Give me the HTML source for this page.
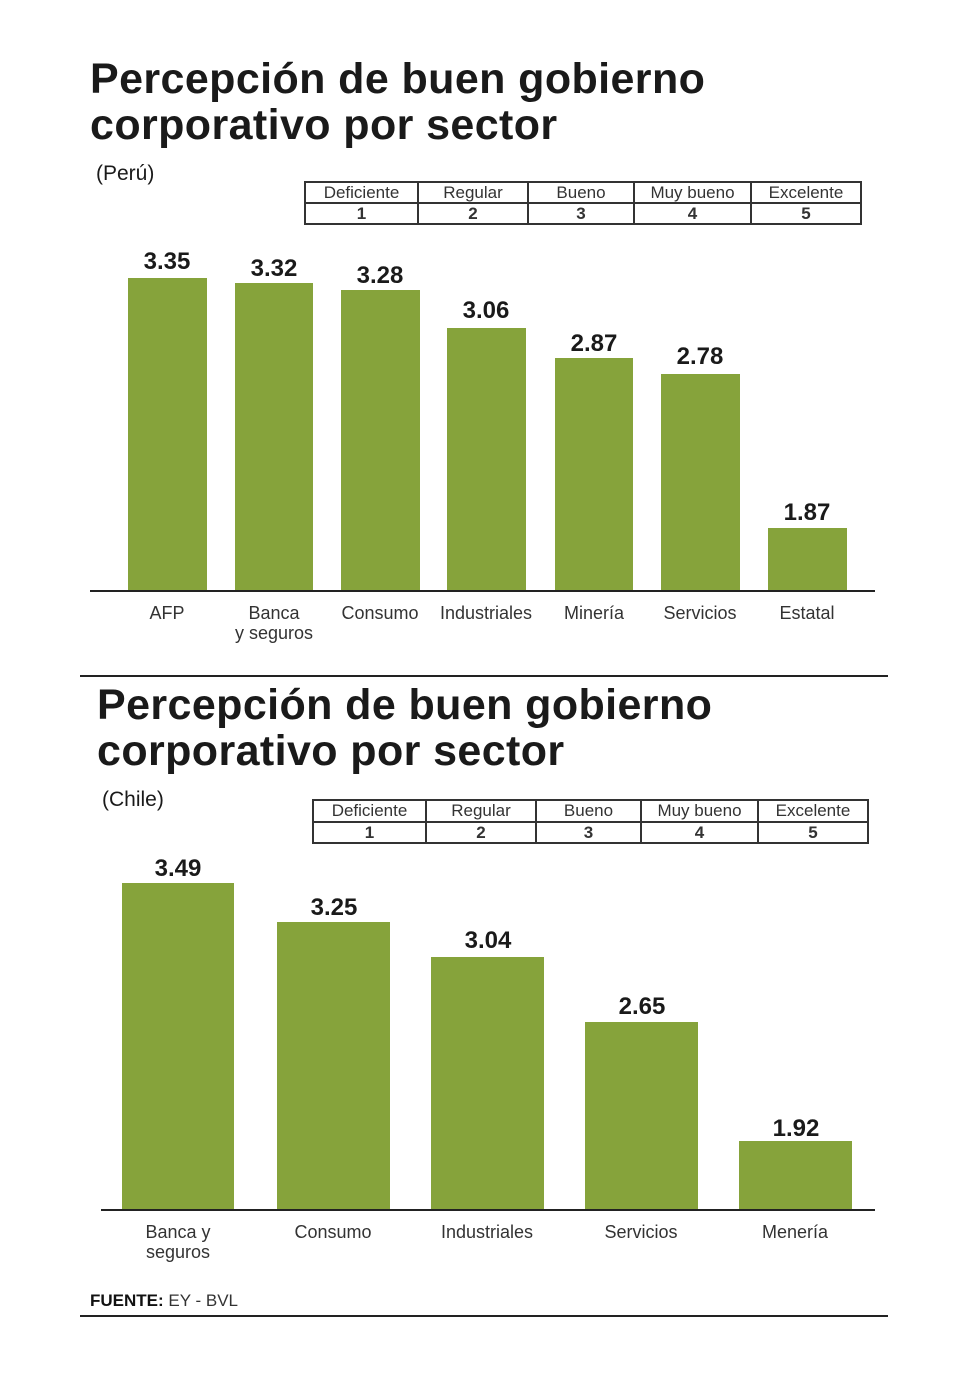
<!DOCTYPE html>
<html><head><meta charset="utf-8"><style>
body{margin:0;width:980px;height:1400px;background:#fff;position:relative;font-family:"Liberation Sans",sans-serif;color:#1a1a1a;overflow:hidden}
.a{position:absolute}
.t{font-weight:bold;font-size:43px;line-height:46px;white-space:nowrap;letter-spacing:0.4px}
.b{position:absolute;background:#86a33b}
.v{position:absolute;font-weight:bold;font-size:24px;text-align:center;width:120px}
.c{position:absolute;font-size:18px;text-align:center;width:140px;line-height:20px;color:#333}
.ln{position:absolute;background:#222}
table{position:absolute;border-collapse:collapse;font-size:17px;color:#333;table-layout:fixed}
td{border:2px solid #333;text-align:center;padding:0;line-height:19px;white-space:nowrap;overflow:hidden}
</style></head><body>
<div class="a t" style="left:90px;top:56px">Percepción de buen gobierno<br>corporativo por sector</div>
<div class="a" style="left:96px;top:162px;font-size:21px">(Perú)</div>
<table style="left:304px;top:181px;width:556px;height:44px"><col style="width:113px"><col style="width:110px"><col style="width:106px"><col style="width:117px"><col style="width:110px"><tr><td>Deficiente</td><td>Regular</td><td>Bueno</td><td>Muy bueno</td><td>Excelente</td></tr><tr style="font-weight:bold"><td>1</td><td>2</td><td>3</td><td>4</td><td>5</td></tr></table>

<div class="b" style="left:128px;top:278px;width:79px;height:313px"></div>
<div class="b" style="left:235px;top:283px;width:78px;height:308px"></div>
<div class="b" style="left:341px;top:290px;width:79px;height:301px"></div>
<div class="b" style="left:447px;top:328px;width:79px;height:263px"></div>
<div class="b" style="left:555px;top:358px;width:78px;height:233px"></div>
<div class="b" style="left:661px;top:374px;width:79px;height:217px"></div>
<div class="b" style="left:768px;top:528px;width:79px;height:63px"></div>
<div class="ln" style="left:90px;top:590px;width:785px;height:2px"></div>
<div class="v" style="left:107px;top:248px">3.35</div>
<div class="v" style="left:214px;top:255px">3.32</div>
<div class="v" style="left:320px;top:262px">3.28</div>
<div class="v" style="left:426px;top:297px">3.06</div>
<div class="v" style="left:534px;top:330px">2.87</div>
<div class="v" style="left:640px;top:343px">2.78</div>
<div class="v" style="left:747px;top:499px">1.87</div>
<div class="c" style="left:97px;top:603px">AFP</div>
<div class="c" style="left:204px;top:603px">Banca<br>y seguros</div>
<div class="c" style="left:310px;top:603px">Consumo</div>
<div class="c" style="left:416px;top:603px">Industriales</div>
<div class="c" style="left:524px;top:603px">Minería</div>
<div class="c" style="left:630px;top:603px">Servicios</div>
<div class="c" style="left:737px;top:603px">Estatal</div>

<div class="ln" style="left:80px;top:675px;width:808px;height:2px"></div>

<div class="a t" style="left:97px;top:682px">Percepción de buen gobierno<br>corporativo por sector</div>
<div class="a" style="left:102px;top:788px;font-size:21px">(Chile)</div>
<table style="left:312px;top:799px;width:555px;height:45px"><col style="width:113px"><col style="width:110px"><col style="width:105px"><col style="width:117px"><col style="width:110px"><tr><td>Deficiente</td><td>Regular</td><td>Bueno</td><td>Muy bueno</td><td>Excelente</td></tr><tr style="font-weight:bold"><td>1</td><td>2</td><td>3</td><td>4</td><td>5</td></tr></table>

<div class="b" style="left:122px;top:883px;width:112px;height:327px"></div>
<div class="b" style="left:277px;top:922px;width:113px;height:288px"></div>
<div class="b" style="left:431px;top:957px;width:113px;height:253px"></div>
<div class="b" style="left:585px;top:1022px;width:113px;height:188px"></div>
<div class="b" style="left:739px;top:1141px;width:113px;height:69px"></div>
<div class="ln" style="left:101px;top:1209px;width:774px;height:2px"></div>
<div class="v" style="left:118px;top:855px">3.49</div>
<div class="v" style="left:274px;top:894px">3.25</div>
<div class="v" style="left:428px;top:927px">3.04</div>
<div class="v" style="left:582px;top:993px">2.65</div>
<div class="v" style="left:736px;top:1115px">1.92</div>
<div class="c" style="left:108px;top:1222px">Banca y<br>seguros</div>
<div class="c" style="left:263px;top:1222px">Consumo</div>
<div class="c" style="left:417px;top:1222px">Industriales</div>
<div class="c" style="left:571px;top:1222px">Servicios</div>
<div class="c" style="left:725px;top:1222px">Menería</div>

<div class="a" style="left:90px;top:1291px;font-size:17px;color:#333"><b style="color:#111">FUENTE:</b> EY - BVL</div>
<div class="ln" style="left:80px;top:1315px;width:808px;height:2px"></div>
</body></html>
